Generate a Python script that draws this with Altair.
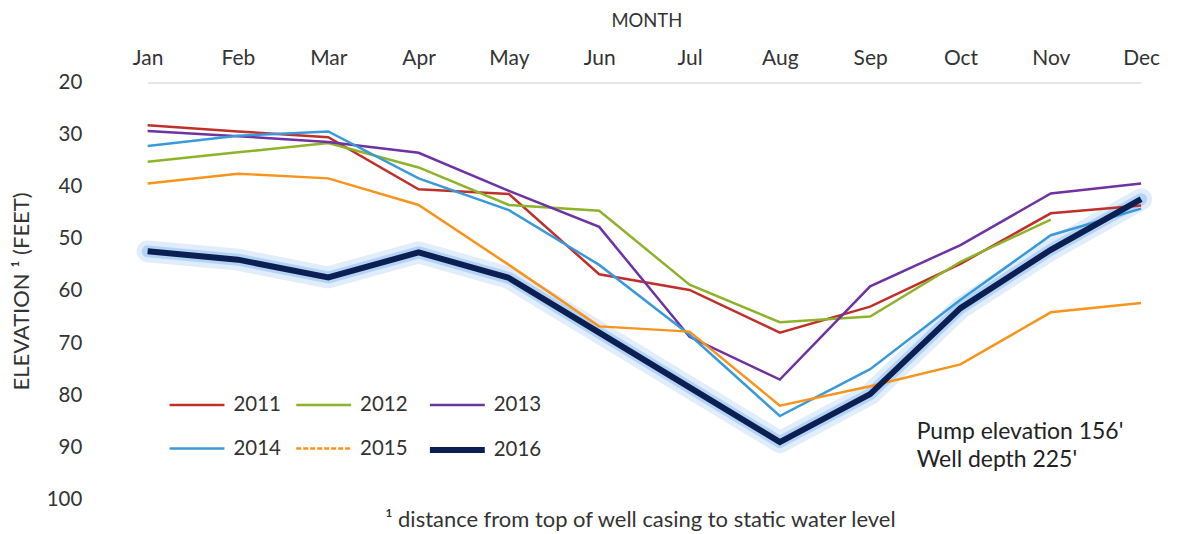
import altair as alt
import pandas as pd

months = ["Jan", "Feb", "Mar", "Apr", "May", "Jun", "Jul", "Aug", "Sep", "Oct", "Nov", "Dec"]
years = ["2011", "2012", "2013", "2014", "2015", "2016"]

v2011 = [28.2, 29.4, 30.5, 40.5, 41.4, 56.8, 59.8, 68.0, 63.0, 54.8, 45.1, 43.6]
v2012 = [35.2, 33.4, 31.6, 36.3, 43.5, 44.6, 58.8, 66.0, 64.9, 54.4, 46.3, None]
v2013 = [29.3, 30.3, 31.4, 33.5, 40.8, 47.7, 68.8, 77.0, 59.1, 51.2, 41.3, 39.4]
v2014 = [32.2, 30.2, 29.4, 38.4, 44.5, 55.0, 68.4, 84.0, 75.0, 61.7, 49.3, 44.2]
v2015 = [39.4, 37.5, 38.4, 43.5, 55.0, 66.8, 67.8, 82.0, 78.3, 74.1, 64.1, 62.3]
v2016 = [52.4, 54.0, 57.4, 52.6, 57.5, 68.0, 78.5, 89.0, 79.8, 63.3, 52.1, 42.4]

colors = ["#c0302a", "#8db32a", "#6e32a2", "#3a9ad9", "#f7941d", "#0c1f52"]
widths = [2.5, 2.5, 2.5, 2.5, 2.5, 6]

series = [v2011, v2012, v2013, v2014, v2015, v2016]
rows = []
for yr, vals in zip(years, series):
    for m, v in zip(months, vals):
        if v is not None:
            rows.append({"month": m, "year": yr, "value": v})
df = pd.DataFrame(rows)

FONT = "Lato"
TXT = "#333333"

xenc = alt.X("month:N", sort=months,
             scale=alt.Scale(type="point", domain=months, range=[40, 1036], padding=0),
             axis=alt.Axis(orient="top", title="MONTH", labelAngle=0,
                           labelFontSize=21, labelColor=TXT, labelFont=FONT,
                           labelPadding=14, ticks=False,
                           domainColor="#e6e6e6", domainWidth=2,
                           titleFont=FONT, titleFontSize=18.5, titleFontWeight="normal",
                           titleColor=TXT, titleX=540, titleY=-62,
                           titleAnchor="middle", titleBaseline="middle"))
yenc = alt.Y("value:Q",
             scale=alt.Scale(domain=[20, 100], reverse=True, nice=False, zero=False),
             axis=alt.Axis(values=[20, 30, 40, 50, 60, 70, 80, 90, 100],
                           title="ELEVATION  ¹  (FEET)", labelFontSize=20.5, labelColor=TXT,
                           labelFont=FONT, labelPadding=26, ticks=False, domain=False,
                           grid=False, titleFont=FONT, titleFontSize=22,
                           titleFontWeight="normal", titleColor=TXT,
                           titleX=-86, titleY=209, titleAngle=270,
                           titleAlign="center", titleBaseline="middle"))

base = alt.Chart(df)

glow_outer = base.transform_filter(alt.datum.year == "2016").mark_line(
    color="#b3d3f5", strokeWidth=22, opacity=0.4, strokeJoin="round", strokeCap="round"
).encode(x=xenc, y=yenc)
glow_inner = base.transform_filter(alt.datum.year == "2016").mark_line(
    color="#7fb5ee", strokeWidth=12, opacity=0.45, strokeJoin="round", strokeCap="round"
).encode(x=xenc, y=yenc)

leg = dict(title=None, orient="none", legendX=59, legendY=294, direction="horizontal",
           columns=3, symbolType="stroke", symbolSize=3025,
           labelFontSize=20.5, labelFont=FONT, labelColor=TXT,
           labelOffset=6, columnPadding=10, rowPadding=4, padding=0,
           symbolDash=alt.ExprRef("datum.value === '2015' ? [5, 2] : [1, 0]"))

lines = base.mark_line(strokeJoin="miter").encode(
    x=xenc, y=yenc,
    color=alt.Color("year:N", scale=alt.Scale(domain=years, range=colors),
                    legend=alt.Legend(**leg)),
    strokeWidth=alt.StrokeWidth("year:N",
                                scale=alt.Scale(type="ordinal", domain=years, range=widths),
                                legend=alt.Legend(**leg)),
    order=alt.Order("year:N"),
)

note_df = pd.DataFrame({"t": ["¹ distance from top of well casing to static water level"]})
note = alt.Chart(note_df).mark_text(font=FONT, fontSize=22, color=TXT, align="center",
                                    baseline="middle").encode(
    text="t:N", x=alt.value(534), y=alt.value(439))

ann_df = pd.DataFrame({"t": [["Pump elevation 156'", "Well depth 225'"]]})
ann = alt.Chart(ann_df).mark_text(font=FONT, fontSize=23, color="#222222", align="left",
                                  baseline="middle", lineHeight=29).encode(
    text="t", x=alt.value(811), y=alt.value(350))

chart = alt.layer(glow_outer, glow_inner, lines, note, ann).properties(
    width=1062, height=418,
    autosize=alt.AutoSizeParams(type="none"),
    padding={"left": 100, "top": 74, "right": 10, "bottom": 34},
).configure(background="white").configure_view(stroke=None)

chart.save("out.html", embed_options={"renderer": "svg", "actions": False})
